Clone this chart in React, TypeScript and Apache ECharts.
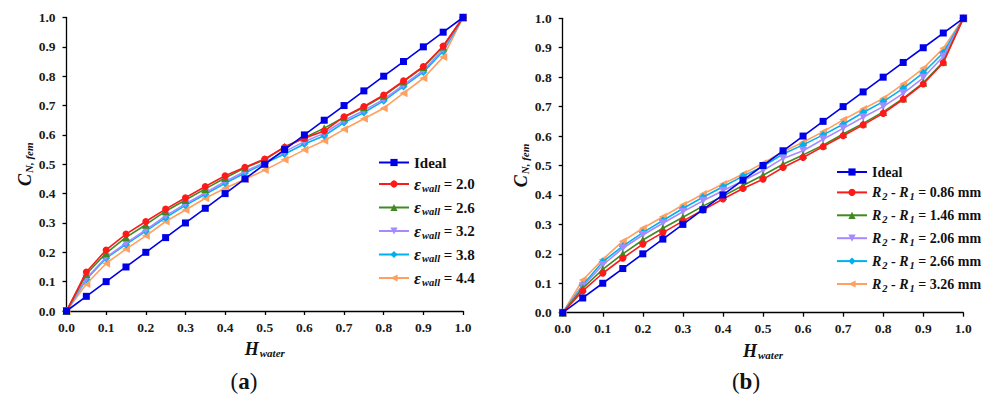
import React, { useEffect, useRef } from "react";
import * as echarts from "echarts";

const H_WATER = [0, 0.05, 0.1, 0.15, 0.2, 0.25, 0.3, 0.35, 0.4, 0.45, 0.5, 0.55, 0.6, 0.65, 0.7, 0.75, 0.8, 0.85, 0.9, 0.95, 1.0];
const IDEAL = [0, 0.05, 0.1, 0.15, 0.2, 0.25, 0.3, 0.35, 0.4, 0.45, 0.5, 0.55, 0.6, 0.65, 0.7, 0.75, 0.8, 0.85, 0.9, 0.95, 1.0];

// Panel (a): wall permittivity
const EPS_20 = [0, 0.133, 0.208, 0.262, 0.305, 0.347, 0.386, 0.424, 0.461, 0.49, 0.518, 0.558, 0.589, 0.613, 0.662, 0.697, 0.736, 0.784, 0.833, 0.903, 1];
const EPS_26 = [0, 0.126, 0.197, 0.251, 0.294, 0.34, 0.378, 0.416, 0.453, 0.488, 0.515, 0.56, 0.59, 0.623, 0.66, 0.694, 0.733, 0.782, 0.831, 0.901, 1];
const EPS_32 = [0, 0.111, 0.183, 0.231, 0.276, 0.324, 0.365, 0.403, 0.441, 0.475, 0.507, 0.543, 0.577, 0.606, 0.649, 0.683, 0.721, 0.77, 0.82, 0.892, 1];
const EPS_38 = [0, 0.108, 0.18, 0.227, 0.272, 0.318, 0.36, 0.398, 0.435, 0.47, 0.503, 0.535, 0.569, 0.597, 0.642, 0.676, 0.716, 0.765, 0.814, 0.885, 1];
const EPS_44 = [0, 0.092, 0.162, 0.211, 0.256, 0.305, 0.344, 0.384, 0.418, 0.449, 0.48, 0.515, 0.549, 0.58, 0.619, 0.655, 0.691, 0.742, 0.793, 0.865, 1];
const EPS_LABELS = ["2.0", "2.6", "3.2", "3.8", "4.4"];

// Panel (b): wall thickness
const R_086 = [0, 0.074, 0.134, 0.185, 0.233, 0.272, 0.311, 0.349, 0.386, 0.422, 0.453, 0.493, 0.527, 0.564, 0.601, 0.638, 0.677, 0.725, 0.777, 0.849, 1];
const R_146 = [0, 0.083, 0.147, 0.2, 0.247, 0.287, 0.324, 0.362, 0.396, 0.432, 0.467, 0.504, 0.536, 0.569, 0.607, 0.643, 0.682, 0.728, 0.781, 0.852, 1];
const R_206 = [0, 0.09, 0.162, 0.219, 0.264, 0.304, 0.343, 0.38, 0.414, 0.448, 0.483, 0.524, 0.55, 0.589, 0.626, 0.664, 0.7, 0.745, 0.798, 0.87, 1];
const R_266 = [0, 0.094, 0.173, 0.226, 0.272, 0.313, 0.354, 0.392, 0.428, 0.464, 0.497, 0.539, 0.57, 0.604, 0.64, 0.68, 0.717, 0.762, 0.815, 0.883, 1];
const R_326 = [0, 0.111, 0.181, 0.243, 0.287, 0.326, 0.366, 0.403, 0.437, 0.471, 0.508, 0.547, 0.579, 0.615, 0.655, 0.692, 0.728, 0.777, 0.83, 0.898, 1];
const R_LABELS = ["0.86", "1.46", "2.06", "2.66", "3.26"];

const COLORS = ["#0000E6", "#FF1A1A", "#3F8A22", "#A68AFF", "#00B0F0", "#FFA060"];
const SYMBOLS = ["rect", "circle", "triangle", "triangle", "diamond", "triangle"];
const ROTATES = [0, 0, 0, 180, 0, 90];
const SIZES = [7, 7, 8, 8, 8, 8];

const FONT = "Liberation Serif";

const pairs = (ys: number[]) => H_WATER.map((x, i) => [x, ys[i]]);

export default function App() {
  const ref = useRef<HTMLDivElement>(null);
  useEffect(() => {
    document.body.style.margin = "0";
    if (!ref.current) return;
    const chart = echarts.init(ref.current, undefined, { renderer: "svg" });

    const epsNames = EPS_LABELS.map((v) => "ε_wall = " + v);
    const rNames = R_LABELS.map((v) => "R2 - R1 = " + v + " mm");
    const aData = [IDEAL, EPS_20, EPS_26, EPS_32, EPS_38, EPS_44];
    const bData = [IDEAL, R_086, R_146, R_206, R_266, R_326];
    const aNames = ["Ideal", ...epsNames];
    const bNames = ["Ideal", ...rNames];

    const mkSeries = (names: string[], data: number[][], idx: number) =>
      names.map((n, i) => ({
        type: "line",
        name: n,
        xAxisIndex: idx,
        yAxisIndex: idx,
        data: pairs(data[i]),
        symbol: SYMBOLS[i],
        symbolSize: SIZES[i],
        symbolRotate: ROTATES[i],
        showAllSymbol: true,
        z: 10 - i,
        lineStyle: { color: COLORS[i], width: 1.6 },
        itemStyle: { color: COLORS[i] },
      }));

    const axisCommon = {
      type: "value",
      min: 0,
      max: 1,
      interval: 0.1,
      axisLine: { show: true, lineStyle: { color: "#000", width: 1.3 } },
      axisTick: { show: true, length: 4, lineStyle: { color: "#000", width: 1.3 } },
      splitLine: { show: false },
      axisLabel: {
        formatter: (v: number) => v.toFixed(1),
        fontFamily: FONT,
        fontWeight: "bold",
        fontSize: 13.5,
        color: "#1a1a1a",
      },
    };

    const subRich = {
      c: { fontFamily: FONT, fontSize: 18, fontWeight: "bold", fontStyle: "italic", color: "#111", lineHeight: 20 },
      s: { fontFamily: FONT, fontSize: 11, fontWeight: "bold", fontStyle: "italic", color: "#111", lineHeight: 11, padding: [9, 0, 0, 1] },
    };
    const xName = {
      name: "{c|H}{s|water}",
      nameLocation: "middle",
      nameGap: 24,
      nameTextStyle: { rich: subRich },
    };
    const yName = {
      name: "{c|C}{s|N, fem}",
      nameLocation: "middle",
      nameRotate: 90,
      nameGap: 28,
      nameTextStyle: { rich: subRich },
    };

    const legendRich = (fs: number) => ({
      n: { fontFamily: FONT, fontSize: fs, fontWeight: "bold", color: "#111" },
      ideal: { fontFamily: FONT, fontSize: fs, fontWeight: "bold", color: "#111" },
      e: { fontFamily: FONT, fontSize: fs + 2, fontStyle: "italic", color: "#111" },
      r: { fontFamily: FONT, fontSize: fs, fontWeight: "bold", fontStyle: "italic", color: "#111" },
      w: { fontFamily: FONT, fontSize: 10.5, fontWeight: "bold", fontStyle: "italic", color: "#111", lineHeight: 11, padding: [8, 0, 0, 1] },
    });

    const legendCommon = {
      orient: "vertical",
      padding: 0,
      itemWidth: 30,
      itemHeight: 9,
      selectedMode: false,
    };

    const option = {
      animation: false,
      backgroundColor: "#fff",
      grid: [
        { left: 66.5, top: 17.5, width: 396.5, height: 293.5 },
        { left: 562.7, top: 18.3, width: 400.6, height: 294.4 },
      ],
      xAxis: [
        { ...axisCommon, ...xName, gridIndex: 0, axisLabel: { ...axisCommon.axisLabel, margin: 9 } },
        { ...axisCommon, ...xName, gridIndex: 1, axisLabel: { ...axisCommon.axisLabel, margin: 9 } },
      ],
      yAxis: [
        { ...axisCommon, ...yName, gridIndex: 0, axisLabel: { ...axisCommon.axisLabel, margin: 11 } },
        { ...axisCommon, ...yName, gridIndex: 1, axisLabel: { ...axisCommon.axisLabel, margin: 11 } },
      ],
      legend: [
        {
          ...legendCommon,
          left: 378,
          top: 155,
          itemGap: 4.5,
          data: aNames,
          textStyle: { fontFamily: FONT, fontSize: 15, fontWeight: "bold", color: "#111", rich: legendRich(15) },
          formatter: (name: string) => {
            if (name === "Ideal") return "{ideal|Ideal}";
            const v = name.split("= ")[1];
            return "{e|ε}{w|wall}{n| = " + v + "}";
          },
        },
        {
          ...legendCommon,
          left: 836,
          top: 165,
          itemGap: 3.9,
          data: bNames,
          textStyle: { fontFamily: FONT, fontSize: 14, fontWeight: "bold", color: "#111", rich: legendRich(14) },
          formatter: (name: string) => {
            if (name === "Ideal") return "{ideal|Ideal}";
            const v = name.split("= ")[1];
            return "{r|R}{w|2}{n| - }{r|R}{w|1}{n| = " + v + "}";
          },
        },
      ],
      graphic: [
        {
          type: "text",
          x: 244,
          y: 381,
          style: {
            text: "{p|(}{b|a}{p|)}",
            align: "center",
            verticalAlign: "middle",
            rich: {
              p: { fontFamily: FONT, fontSize: 23, fill: "#111" },
              b: { fontFamily: FONT, fontSize: 23, fontWeight: "bold", fill: "#111" },
            },
          },
        },
        {
          type: "text",
          x: 746,
          y: 381,
          style: {
            text: "{p|(}{b|b}{p|)}",
            align: "center",
            verticalAlign: "middle",
            rich: {
              p: { fontFamily: FONT, fontSize: 23, fill: "#111" },
              b: { fontFamily: FONT, fontSize: 23, fontWeight: "bold", fill: "#111" },
            },
          },
        },
      ],
      series: [...mkSeries(aNames, aData, 0), ...mkSeries(bNames, bData, 1)],
    };

    chart.setOption(option as any);
    return () => chart.dispose();
  }, []);

  return <div ref={ref} style={{ width: 983, height: 399 }} />;
}
